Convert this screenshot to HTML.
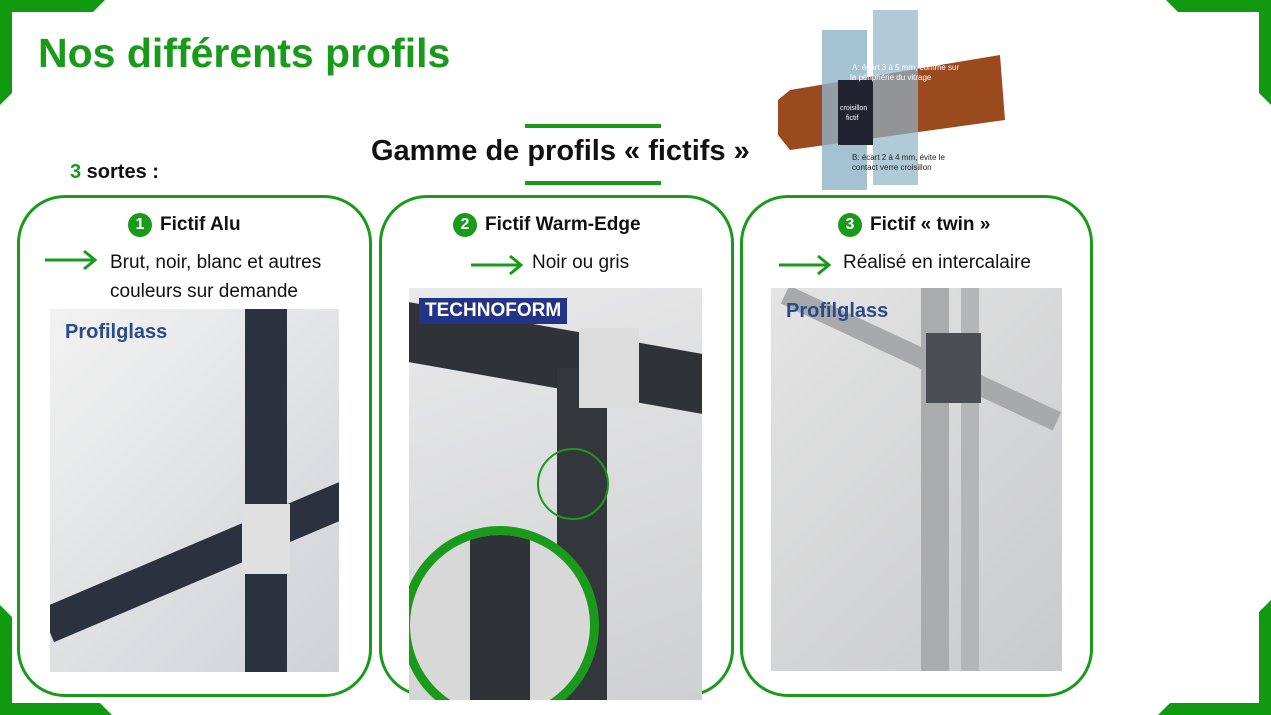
<!DOCTYPE html>
<html><head><meta charset="utf-8"><style>
html,body{margin:0;width:1271px;height:715px;overflow:hidden}
body{position:relative;background:#fff;font-family:"Liberation Sans",sans-serif}
.a{position:absolute}
.box{position:absolute;border:3px solid #1a9a1a;border-radius:48px;box-sizing:border-box}
.t{position:absolute;font-size:19px;color:#111;white-space:nowrap}
.num{display:inline-block;width:24px;height:24px;border-radius:50%;background:#1a9a1a;color:#fff;text-align:center;line-height:24px;font-size:16px;font-weight:bold;margin-right:8px;vertical-align:1px}
</style></head><body>
<svg class="a" style="left:0;top:0" width="1271" height="715">
<polygon points="0,0 105,0 93,12 12,12 12,93 0,105" fill="#119911"/>
<polygon points="1271,0 1166,0 1178,12 1259,12 1259,93 1271,105" fill="#119911"/>
<polygon points="0,605 12,617 12,703 100,703 112,715 0,715" fill="#119911"/>
<polygon points="1271,600 1259,612 1259,703 1170,703 1158,715 1271,715" fill="#119911"/>
<rect x="525" y="124" width="136" height="4" fill="#1a9a1a"/>
<rect x="525" y="181" width="136" height="4" fill="#1a9a1a"/>
<g stroke="#1a9a1a" stroke-width="3" fill="none">
<path d="M45,260 H94 M84,251 L95,260 L84,269"/>
<path d="M471,265 H520 M510,256 L521,265 L510,274"/>
<path d="M779,265 H828 M818,256 L829,265 L818,274"/>
</g>
<path d="M778,100 L790,90 L1000,55 L1005,120 L790,150 L778,135Z" fill="#9a4a1e"/>
<rect x="822" y="30" width="45" height="160" fill="#8fb3c8" opacity="0.8"/>
<rect x="873" y="10" width="45" height="175" fill="#8fb3c8" opacity="0.7"/>
<rect x="838" y="80" width="35" height="65" fill="#1f2430"/>
<text x="840" y="110" font-size="7" fill="#fff">croisillon</text><text x="846" y="120" font-size="7" fill="#fff">fictif</text>
<text x="852" y="70" font-size="8" fill="#fff">A: écart 3 à 5 mm, comme sur</text>
<text x="850" y="80" font-size="8" fill="#fff">la périphérie du vitrage</text>
<text x="852" y="160" font-size="8" fill="#222">B: écart 2 à 4 mm, évite le</text>
<text x="852" y="170" font-size="8" fill="#222">contact  verre croisillon</text>
</svg>
<div class="a" style="left:38px;top:30px;font-size:41px;font-weight:bold;color:#1a9a1a">Nos différents profils</div>
<div class="a" style="left:371px;top:135px;font-size:29px;font-weight:bold;color:#111">Gamme de profils « fictifs »</div>
<div class="a" style="left:70px;top:161px;font-size:20px;font-weight:bold;color:#111"><span style="color:#1a9a1a">3</span> sortes :</div>

<div class="box" style="left:17px;top:195px;width:355px;height:502px"></div>
<div class="box" style="left:379px;top:195px;width:355px;height:502px"></div>
<div class="box" style="left:740px;top:195px;width:353px;height:502px"></div>

<div class="t" style="left:128px;top:213px;font-weight:bold"><span class="num">1</span>Fictif Alu</div>
<div class="t" style="left:453px;top:213px;font-weight:bold"><span class="num">2</span>Fictif Warm-Edge</div>
<div class="t" style="left:838px;top:213px;font-weight:bold"><span class="num">3</span>Fictif « twin »</div>
<div class="t" style="left:110px;top:248px;line-height:29px">Brut, noir, blanc et autres<br>couleurs sur demande</div>
<div class="t" style="left:532px;top:252px">Noir ou gris</div>
<div class="t" style="left:843px;top:252px">Réalisé en intercalaire</div>

<div class="a" style="left:50px;top:309px;width:289px;height:363px;background:linear-gradient(135deg,#f2f2f2,#d0d2d6);overflow:hidden">
<div class="a" style="left:195px;top:0;width:42px;height:363px;background:#2c3140"></div>
<div class="a" style="left:-10px;top:300px;width:340px;height:36px;background:#2c3140;transform:rotate(-23deg);transform-origin:0 0"></div>
<div class="a" style="left:192px;top:195px;width:48px;height:70px;background:#e0e0e0"></div>
<div class="a" style="left:15px;top:12px;font-size:20px;font-weight:bold;color:#2a4a8a">Profilglass</div>
</div>
<div class="a" style="left:409px;top:288px;width:293px;height:412px;background:linear-gradient(160deg,#e9e9ea,#cfd0d2);overflow:hidden">
<div class="a" style="left:0;top:40px;width:293px;height:60px;background:#2f3338;transform:skewY(10deg)"></div>
<div class="a" style="left:148px;top:80px;width:50px;height:340px;background:#33373c"></div>
<div class="a" style="left:170px;top:40px;width:60px;height:80px;background:#dcdcdc"></div>
<div class="a" style="left:10px;top:10px;padding:2px 6px;background:#223388;color:#fff;font-weight:bold;font-size:19px">TECHNOFORM</div>
<div class="a" style="left:128px;top:160px;width:68px;height:68px;border:2px solid #1a9a1a;border-radius:50%"></div>
<div class="a" style="left:-8px;top:238px;width:180px;height:180px;border:9px solid #1a9a1a;border-radius:50%;background:#d8d8d8;overflow:hidden"><div class="a" style="left:60px;top:0;width:60px;height:200px;background:#2f3338"></div></div>
</div>
<div class="a" style="left:771px;top:288px;width:291px;height:383px;background:linear-gradient(135deg,#e4e4e4,#c9cacc);overflow:hidden">
<div class="a" style="left:150px;top:0;width:28px;height:383px;background:#a9abad"></div>
<div class="a" style="left:190px;top:0;width:18px;height:383px;background:#b3b5b7"></div>
<div class="a" style="left:0;top:60px;width:300px;height:20px;background:#a7a9ab;transform:rotate(25deg)"></div>
<div class="a" style="left:155px;top:45px;width:55px;height:70px;background:#4a4d52"></div>
<div class="a" style="left:15px;top:12px;font-size:20px;font-weight:bold;color:#2a4a8a">Profilglass</div>
</div>
</body></html>
